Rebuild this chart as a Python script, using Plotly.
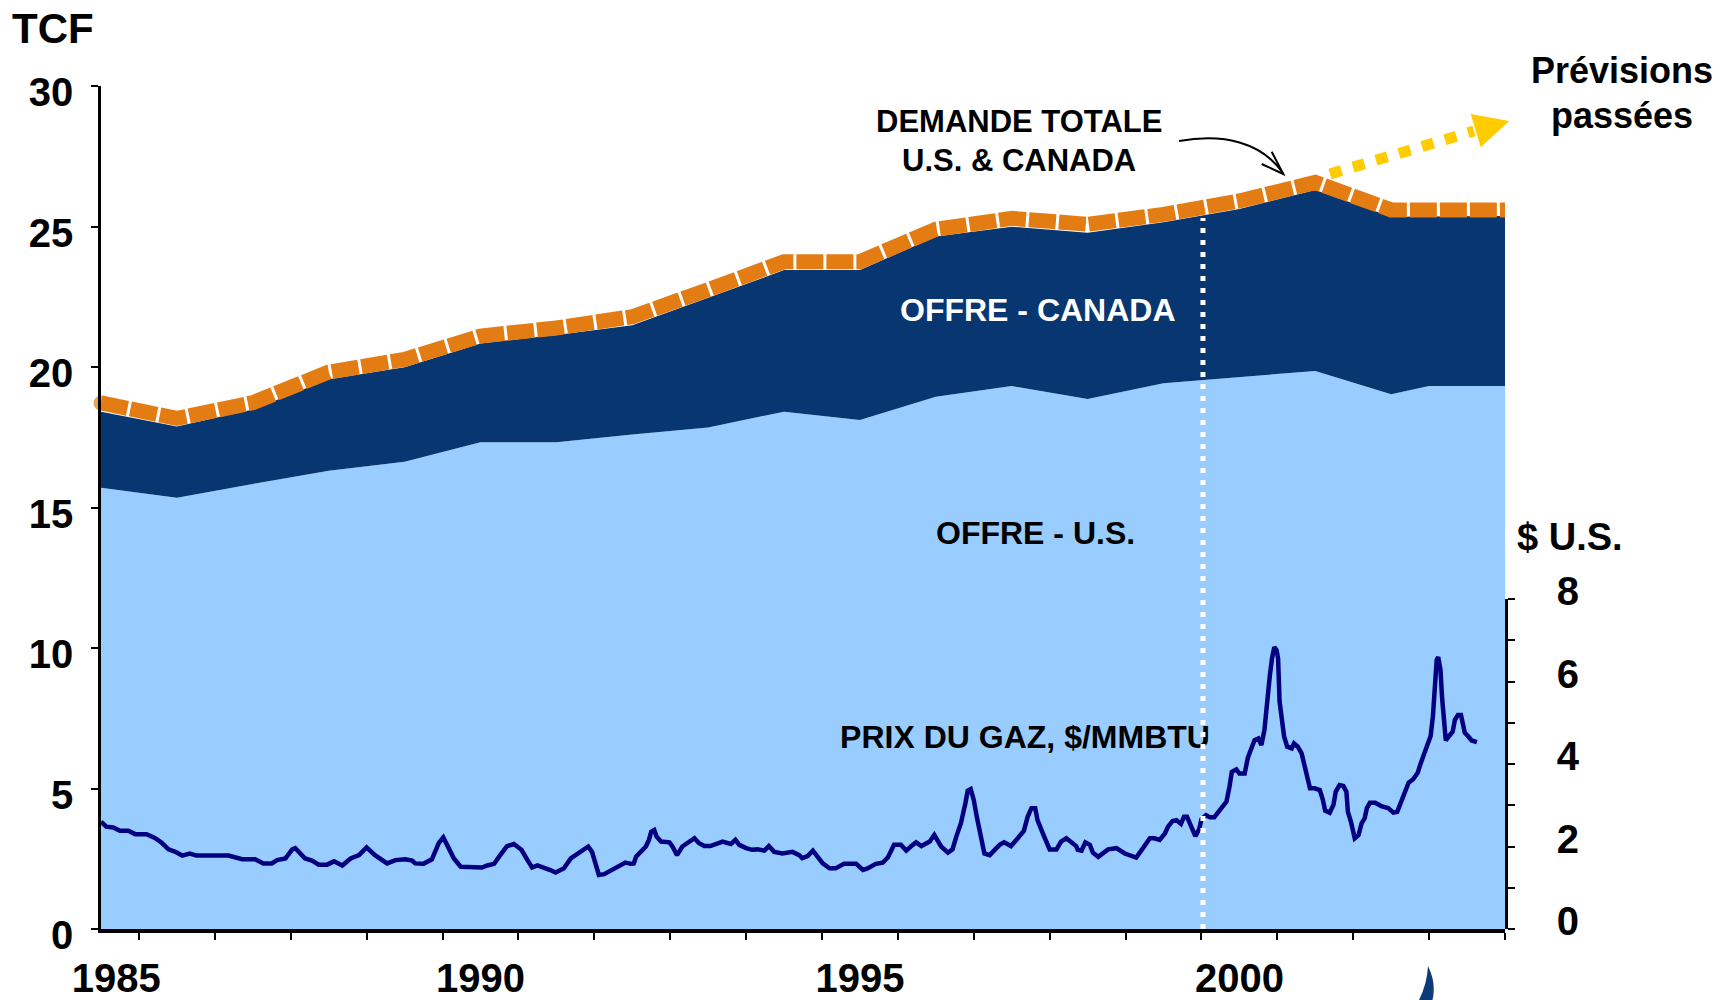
import plotly.graph_objects as go

# ---------------- data ----------------
years = [1985, 1986, 1987, 1988, 1989, 1990, 1991, 1992, 1993, 1994, 1995,
         1996, 1997, 1998, 1999, 2000, 2001, 2002, 2002.5, 2003.5]
us_supply = [15.70, 15.35, 15.84, 16.31, 16.63, 17.32, 17.32, 17.60, 17.85, 18.41, 18.11,
             18.94, 19.32, 18.86, 19.42, 19.63, 19.86, 19.03, 19.32, 19.32]
total_supply = [18.41, 17.88, 18.49, 19.56, 19.99, 20.84, 21.14, 21.49, 22.46, 23.45, 23.45,
                24.64, 24.99, 24.78, 25.15, 25.62, 26.30, 25.35, 25.36, 25.37]
demand = [18.72, 18.17, 18.73, 19.82, 20.27, 21.10, 21.39, 21.79, 22.75, 23.75, 23.75,
          24.90, 25.29, 25.08, 25.43, 25.91, 26.57, 25.59, 25.59, 25.59]

price_t = [1985.00, 1985.07, 1985.16, 1985.25, 1985.36, 1985.45, 1985.60, 1985.71, 1985.80, 1985.89,
           1985.98, 1986.07, 1986.17, 1986.26, 1986.68, 1986.86, 1987.03, 1987.14, 1987.25, 1987.32,
           1987.43, 1987.47, 1987.52, 1987.56, 1987.63, 1987.69, 1987.78, 1987.87, 1987.98, 1988.07,
           1988.18, 1988.29, 1988.40, 1988.50, 1988.61, 1988.70, 1988.77, 1988.88, 1989.01, 1989.10,
           1989.14, 1989.25, 1989.36, 1989.45, 1989.51, 1989.56, 1989.65, 1989.74, 1990.02, 1990.09,
           1990.18, 1990.26, 1990.35, 1990.44, 1990.54, 1990.62, 1990.68, 1990.75, 1990.84, 1990.92,
           1990.99, 1991.10, 1991.19, 1991.30, 1991.42, 1991.47, 1991.52, 1991.56, 1991.63, 1991.72,
           1991.80, 1991.91, 1991.98, 1992.02, 1992.05, 1992.11, 1992.18, 1992.22, 1992.25, 1992.29,
           1992.32, 1992.38, 1992.49, 1992.53, 1992.59, 1992.66, 1992.75, 1992.82, 1992.88, 1992.95,
           1993.03, 1993.12, 1993.19, 1993.30, 1993.36, 1993.41, 1993.50, 1993.58, 1993.65, 1993.74,
           1993.80, 1993.87, 1993.98, 1994.11, 1994.20, 1994.24, 1994.31, 1994.38, 1994.42, 1994.51,
           1994.60, 1994.68, 1994.79, 1994.95, 1995.04, 1995.10, 1995.21, 1995.30, 1995.37, 1995.45,
           1995.54, 1995.61, 1995.67, 1995.74, 1995.81, 1995.92, 1995.98, 1996.07, 1996.16, 1996.22,
           1996.27, 1996.33, 1996.39, 1996.42, 1996.46, 1996.50, 1996.54, 1996.60, 1996.64, 1996.71,
           1996.77, 1996.84, 1996.90, 1996.99, 1997.08, 1997.16, 1997.21, 1997.26, 1997.31, 1997.34,
           1997.41, 1997.50, 1997.59, 1997.65, 1997.72, 1997.78, 1997.85, 1997.87, 1997.92, 1997.97,
           1998.03, 1998.07, 1998.14, 1998.27, 1998.38, 1998.49, 1998.64, 1998.73, 1998.82, 1998.88,
           1998.95, 1999.02, 1999.06, 1999.12, 1999.17, 1999.23, 1999.27, 1999.31, 1999.34, 1999.38,
           1999.42, 1999.47, 1999.50, 1999.56, 1999.61, 1999.67, 1999.72, 1999.78, 1999.83, 1999.87,
           1999.90, 1999.96, 2000.00, 2000.07, 2000.11, 2000.15, 2000.20, 2000.25, 2000.29, 2000.33,
           2000.36, 2000.40, 2000.43, 2000.46, 2000.49, 2000.51, 2000.53, 2000.55, 2000.59, 2000.63,
           2000.69, 2000.72, 2000.77, 2000.82, 2000.84, 2000.88, 2000.93, 2000.99, 2001.06, 2001.10,
           2001.13, 2001.19, 2001.24, 2001.27, 2001.32, 2001.37, 2001.41, 2001.43, 2001.47, 2001.52,
           2001.57, 2001.61, 2001.65, 2001.68, 2001.72, 2001.79, 2001.87, 2001.96, 2002.03, 2002.08,
           2002.13, 2002.18, 2002.23, 2002.29, 2002.35, 2002.39, 2002.44, 2002.48, 2002.52, 2002.55,
           2002.58, 2002.60, 2002.62, 2002.65, 2002.67, 2002.69, 2002.72, 2002.75, 2002.81, 2002.84,
           2002.88, 2002.92, 2002.95, 2002.97, 2003.02, 2003.06, 2003.13]
price_v = [2.60, 2.48, 2.46, 2.38, 2.38, 2.30, 2.30, 2.21, 2.09, 1.93,
           1.87, 1.78, 1.83, 1.78, 1.78, 1.69, 1.69, 1.59, 1.59, 1.67,
           1.71, 1.79, 1.93, 1.96, 1.83, 1.71, 1.66, 1.56, 1.56, 1.64,
           1.54, 1.71, 1.79, 1.98, 1.79, 1.67, 1.59, 1.67, 1.69, 1.66,
           1.59, 1.58, 1.69, 2.08, 2.22, 2.04, 1.71, 1.51, 1.49, 1.54,
           1.58, 1.79, 2.01, 2.06, 1.92, 1.67, 1.49, 1.54, 1.49, 1.43,
           1.37, 1.47, 1.71, 1.85, 2.00, 1.87, 1.59, 1.31, 1.33, 1.43,
           1.50, 1.61, 1.58, 1.59, 1.75, 1.87, 2.00, 2.16, 2.36, 2.40,
           2.24, 2.12, 2.10, 2.00, 1.79, 2.00, 2.12, 2.20, 2.08, 2.01,
           2.01, 2.08, 2.12, 2.06, 2.16, 2.04, 1.96, 1.92, 1.93, 1.90,
           2.01, 1.87, 1.83, 1.87, 1.79, 1.72, 1.77, 1.90, 1.79, 1.59,
           1.47, 1.47, 1.58, 1.58, 1.43, 1.47, 1.58, 1.61, 1.74, 2.04,
           2.04, 1.90, 2.00, 2.10, 2.01, 2.12, 2.28, 2.00, 1.85, 1.93,
           2.24, 2.56, 3.05, 3.35, 3.39, 3.13, 2.72, 2.24, 1.83, 1.79,
           1.92, 2.04, 2.10, 2.01, 2.20, 2.38, 2.72, 2.93, 2.93, 2.64,
           2.32, 1.93, 1.93, 2.12, 2.20, 2.12, 2.01, 1.92, 1.90, 2.10,
           2.04, 1.85, 1.75, 1.93, 1.96, 1.83, 1.73, 1.96, 2.20, 2.20,
           2.16, 2.32, 2.48, 2.62, 2.64, 2.55, 2.72, 2.72, 2.60, 2.40,
           2.25, 2.42, 2.66, 2.76, 2.71, 2.71, 2.84, 2.97, 3.09, 3.45,
           3.81, 3.87, 3.77, 3.77, 4.14, 4.34, 4.58, 4.62, 4.46, 4.82,
           5.47, 6.12, 6.56, 6.83, 6.76, 6.56, 5.51, 5.23, 4.66, 4.42,
           4.38, 4.50, 4.42, 4.26, 4.10, 3.81, 3.41, 3.41, 3.37, 3.13,
           2.87, 2.82, 3.01, 3.33, 3.49, 3.47, 3.33, 2.84, 2.60, 2.20,
           2.28, 2.56, 2.68, 2.93, 3.06, 3.06, 2.98, 2.93, 2.82, 2.84,
           3.06, 3.33, 3.55, 3.63, 3.79, 4.02, 4.26, 4.44, 4.68, 5.15,
           5.96, 6.52, 6.59, 6.28, 5.63, 5.27, 4.57, 4.65, 4.78, 5.07,
           5.19, 5.19, 4.90, 4.76, 4.66, 4.57, 4.53]

left_ticks = [0, 5, 10, 15, 20, 25, 30]
right_ticks = [0, 2, 4, 6, 8]
year_label_pos = [1985.2, 1990, 1995, 2000]
year_labels = ["1985", "1990", "1995", "2000"]
split_year = 1999.52   # white dotted separator

# ---------------- styling ----------------
FONT = "Liberation Sans, Arial, sans-serif"
LIGHT = "#99CCFF"
NAVY = "#083670"
ORANGE = "#E47C14"
YELLOW = "#FFCC00"
PRICE = "#000080"

W, H = 1734, 1000
PL, PR, PT, PB = 101, 1505, 86, 929
X0, X1 = 1985.0, 2003.5
Y0, Y1 = 0, 30


def px_x(px):
    return (px - PL) / (PR - PL)


def px_y(py):
    return (PB - py) / (PB - PT)


def data_x(px):
    return X0 + (px - PL) / (PR - PL) * (X1 - X0)


def data_y(py):
    return Y0 + (PB - py) / (PB - PT) * (Y1 - Y0)


fig = go.Figure()

fig.add_trace(go.Scatter(x=years, y=us_supply, mode="lines", fill="tozeroy",
                         fillcolor=LIGHT, line=dict(width=0, color=LIGHT),
                         hoverinfo="skip", showlegend=False))
fig.add_trace(go.Scatter(x=years, y=total_supply, mode="lines", fill="tonexty",
                         fillcolor=NAVY, line=dict(width=0, color=NAVY),
                         hoverinfo="skip", showlegend=False))
marker_sizes = [15] + [0] * (len(years) - 1)
fig.add_trace(go.Scatter(x=years, y=demand, mode="lines+markers",
                         line=dict(color=ORANGE, width=15, dash="27px,3px"),
                         marker=dict(size=marker_sizes, color=ORANGE, line=dict(width=0)),
                         cliponaxis=False, hoverinfo="skip", showlegend=False))

# label under the white separator line
fig.add_trace(go.Scatter(x=[data_x(1025)], y=[data_y(740)], mode="text",
                         text=["<b>PRIX DU GAZ, $/MMBTU</b>"],
                         textfont=dict(family=FONT, size=32, color="black"),
                         textposition="middle center", hoverinfo="skip", showlegend=False))

fig.add_trace(go.Scatter(x=price_t, y=price_v, mode="lines", yaxis="y2",
                         line=dict(color=PRICE, width=4.5),
                         hoverinfo="skip", showlegend=False))

tickfont = dict(family=FONT, size=40, color="black")

fig.update_layout(
    width=W, height=H,
    margin=dict(l=PL, r=W - PR, t=PT, b=H - PB, pad=0, autoexpand=False),
    paper_bgcolor="white", plot_bgcolor="rgba(0,0,0,0)",
    showlegend=False,
    font=dict(family=FONT, color="black"),
    xaxis=dict(range=[X0, X1], showgrid=False, zeroline=False, automargin=False,
               showline=True, linecolor="black", linewidth=4,
               tickmode="array", tickvals=year_label_pos,
               ticktext=["<b>%s</b>" % t for t in year_labels],
               ticks="", tickfont=tickfont, ticklabelstandoff=11,
               minor=dict(ticks="outside", tick0=1985.5, dtick=1, ticklen=7,
                          tickwidth=1.5, tickcolor="black", showgrid=False)),
    yaxis=dict(range=[Y0, Y1], showgrid=False, zeroline=False, automargin=False,
               showline=True, linecolor="black", linewidth=2.5,
               tickmode="array", tickvals=left_ticks,
               ticktext=["<b>%d</b>" % t for t in left_ticks],
               ticks="outside", ticklen=7, tickwidth=2, tickcolor="black",
               tickfont=tickfont, ticklabelstandoff=10, ticklabelshift=6),
    yaxis2=dict(domain=[0, px_y(599)], range=[0, 8], anchor="x", side="right",
                showgrid=False, zeroline=False, automargin=False,
                showline=True, linecolor="black", linewidth=2.5,
                tickmode="array", tickvals=right_ticks,
                ticktext=["<b>%d</b>" % t for t in right_ticks],
                ticks="outside", ticklen=7, tickwidth=2, tickcolor="black",
                tickfont=tickfont, ticklabelstandoff=34, ticklabelshift=-8,
                minor=dict(ticks="outside", tick0=0, dtick=1, ticklen=7,
                           tickwidth=1.5, tickcolor="black", showgrid=False)),
)


def ann(text, px, py, size, color="black"):
    fig.add_annotation(text="<b>%s</b>" % text, x=px_x(px), y=px_y(py),
                       xref="paper", yref="paper", xanchor="center", yanchor="middle",
                       showarrow=False, font=dict(family=FONT, size=size, color=color))


ann("TCF", 53, 28, 42)
ann("DEMANDE TOTALE", 1019, 122, 31)
ann("U.S. &amp; CANADA", 1019, 160, 31)
ann("Prévisions", 1622, 70, 36)
ann("passées", 1622, 115, 36)
ann("OFFRE - CANADA", 1038, 310, 32, "white")
ann("OFFRE - U.S.", 1035, 533, 32)
ann("$ U.S.", 1570, 537, 38)

# white dotted separator
fig.add_shape(type="line", xref="x", yref="y", x0=split_year, x1=split_year, y0=0, y1=25.3,
              line=dict(color="white", width=5, dash="5px,7px"), layer="above")

# yellow dotted arrow (past forecasts)
fig.add_shape(type="line", xref="paper", yref="paper",
              x0=px_x(1330), y0=px_y(174), x1=px_x(1474), y1=px_y(131),
              line=dict(color=YELLOW, width=11, dash="12px,12px"), layer="above")
fig.add_shape(type="path", xref="paper", yref="paper",
              path="M %f,%f L %f,%f L %f,%f Z" % (px_x(1470.7), px_y(114), px_x(1509.3), px_y(121),
                                                   px_x(1480.7), px_y(147.3)),
              fillcolor=YELLOW, line=dict(width=0), layer="above")

# black curved arrow pointing at demand line
fig.add_shape(type="path", xref="paper", yref="paper",
              path="M %f,%f C %f,%f %f,%f %f,%f" % (px_x(1179), px_y(141), px_x(1225), px_y(133),
                                                   px_x(1262), px_y(143), px_x(1283), px_y(173)),
              line=dict(color="black", width=2), layer="above")
fig.add_shape(type="path", xref="paper", yref="paper",
              path="M %f,%f L %f,%f L %f,%f" % (px_x(1271.7), px_y(151.7), px_x(1283.3), px_y(174),
                                               px_x(1261.7), px_y(164)),
              line=dict(color="black", width=2), layer="above")

# partial logo at the bottom edge
fig.add_shape(type="path", xref="paper", yref="paper",
              path="M %f,%f Q %f,%f %f,%f L %f,%f Q %f,%f %f,%f Z" % (
                  px_x(1428), px_y(966), px_x(1437), px_y(984), px_x(1432), px_y(1002),
                  px_x(1418), px_y(1002), px_x(1427), px_y(985), px_x(1428), px_y(966)),
              fillcolor="#0E3A78", line=dict(width=0), layer="above")

fig.write_html("out.html", config={"displayModeBar": False},
               post_script="document.body.style.margin='0px';document.body.style.overflow='hidden';")
